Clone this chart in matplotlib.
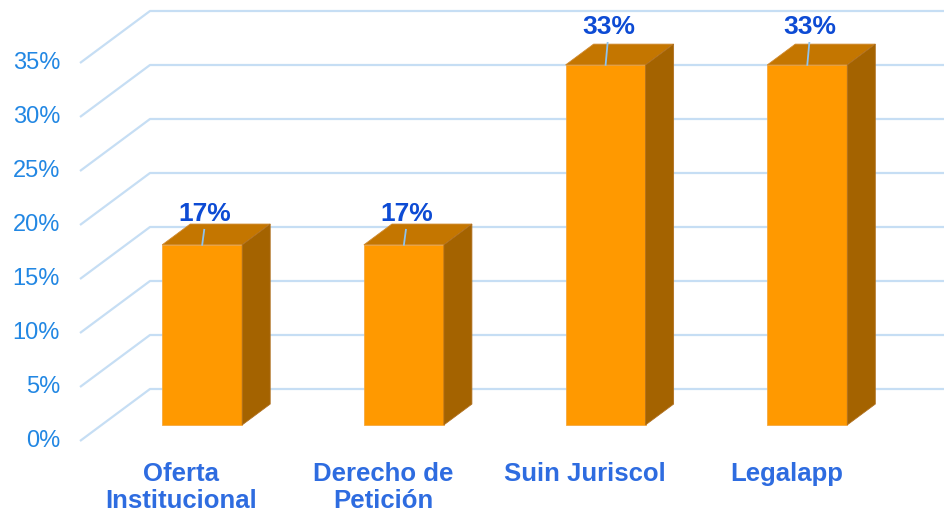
import matplotlib.pyplot as plt
from matplotlib.patches import Polygon

# ---- data ----
categories = ["Oferta\nInstitucional", "Derecho de\nPetición", "Suin Juriscol", "Legalapp"]
values = [16.67, 16.67, 33.33, 33.33]          # percent
value_labels = ["17%", "17%", "33%", "33%"]
ticks = [0, 5, 10, 15, 20, 25, 30, 35]

# ---- pseudo-3D projection (pixel space) ----
W, H = 945, 513
Y0 = 441          # front-plane 0% line
K = 10.8          # px per percent
X_LEFT = 80       # front-left of floor
DX, DY = 70, -52  # full depth offset
CX0, STEP = 180.5, 201.7
HALF_W = 40
D_FRONT, D_BACK = 0.31, 0.71

FRONT = "#FF9900"
TOP = "#C47600"
SIDE = "#A46300"
GRID = "#C6DEF4"
TICK_C = "#2287E3"
CAT_C = "#2E6CE0"
LAB_C = "#0D4BD4"


def proj(x, v, d):
    """front-plane x, value, depth fraction -> pixel coords"""
    return x + DX * d, Y0 - K * v + DY * d


fig = plt.figure(figsize=(W / 100, H / 100), dpi=100)
ax = fig.add_axes([0, 0, 1, 1])
ax.set_xlim(0, W)
ax.set_ylim(H, 0)
ax.axis("off")
plt.rcParams["font.family"] = ["Liberation Sans", "DejaVu Sans"]

# gridlines: side wall diagonal + back wall horizontal
for t in ticks:
    x1, y1 = proj(X_LEFT, t, 0)
    x2, y2 = proj(X_LEFT, t, 1)
    ax.plot([x1, x2, W], [y1, y2, y2], color=GRID, lw=1.6, zorder=1,
            solid_capstyle="butt")
    ax.text(60, y1, f"{t}%", ha="right", va="center", fontsize=17,
            color=TICK_C)

# bars
for i, (v, lab, cat) in enumerate(zip(values, value_labels, categories)):
    cx = CX0 + i * STEP
    l, r = cx - HALF_W, cx + HALF_W
    fl = proj(l, 0, D_FRONT); fr = proj(r, 0, D_FRONT)
    tl = proj(l, v, D_FRONT); tr = proj(r, v, D_FRONT)
    bl = proj(l, v, D_BACK); br = proj(r, v, D_BACK)
    br0 = proj(r, 0, D_BACK)
    ax.add_patch(Polygon([fl, fr, tr, tl], closed=True, facecolor=FRONT,
                         edgecolor="#F5A940", lw=0.6, zorder=3))
    ax.add_patch(Polygon([tl, tr, br, bl], closed=True, facecolor=TOP,
                         edgecolor="#D08A30", lw=0.6, zorder=3))
    ax.add_patch(Polygon([fr, br0, br, tr], closed=True, facecolor=SIDE,
                         edgecolor="#B07020", lw=0.6, zorder=3))

    # data label with leader line (tall bars: label pushed a bit higher)
    fx, fy = proj(cx, v, D_FRONT)
    lift = 31 if v > 30 else 24
    ax.plot([fx, fx + 2], [fy, fy - (lift - 9)], color="#8EC3EE", lw=1.3,
            zorder=4)
    ax.text(fx + 3, fy - lift, lab, ha="center", va="baseline", fontsize=19,
            fontweight="bold", color=LAB_C, zorder=5)

    # category label
    ax.text(cx + 1, 462, cat, ha="center", va="top", fontsize=18.5,
            fontweight="bold", color=CAT_C, linespacing=1.18)

fig.savefig("out.png", dpi=100)
